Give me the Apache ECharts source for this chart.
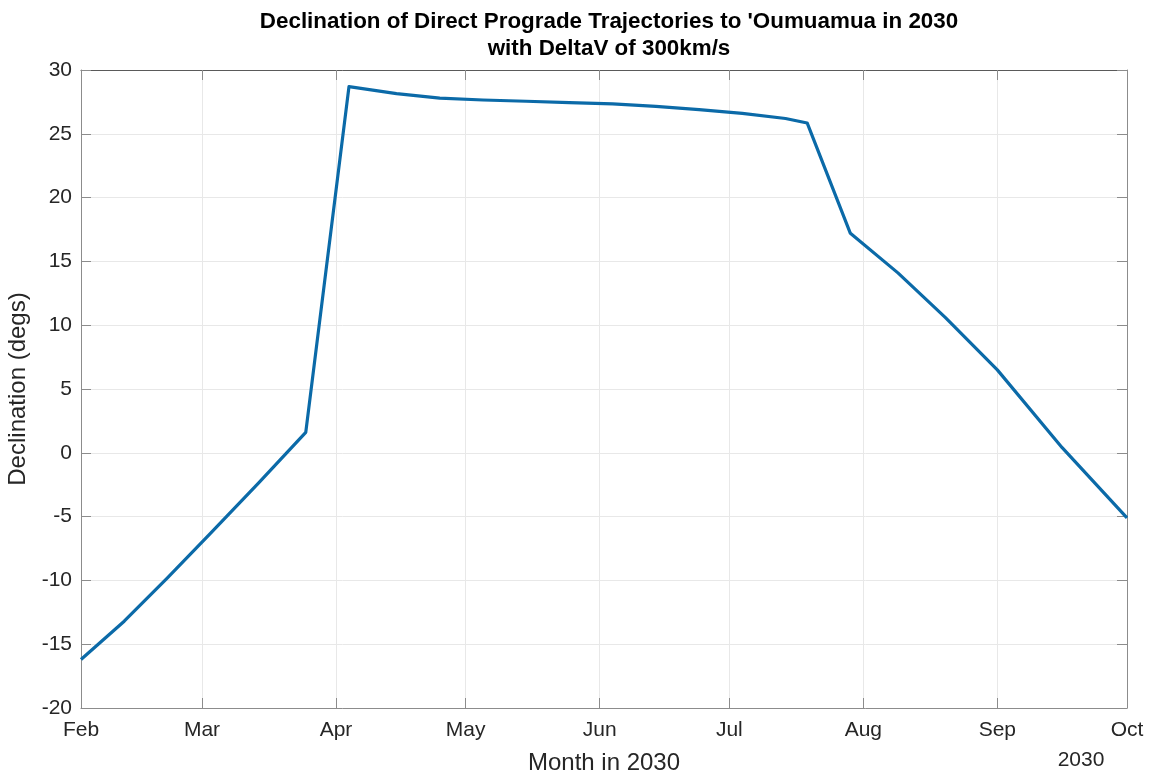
<!DOCTYPE html>
<html>
<head>
<meta charset="utf-8">
<script src="https://cdn.jsdelivr.net/npm/echarts@6/dist/echarts.min.js"></script>
<style>
  html, body { margin: 0; padding: 0; background: #fff; }
  #chart { width: 1156px; height: 778px; }
</style>
</head>
<body>
<div id="chart"></div>
<script>
// Trajectory launch dates and resulting declination (degrees)
const launchDates = [
  '2030-02-01', '2030-02-11', '2030-02-21', '2030-03-03', '2030-03-14',
  '2030-03-25', '2030-04-04', '2030-04-15', '2030-04-25', '2030-05-05',
  '2030-05-15', '2030-05-25', '2030-06-04', '2030-06-14', '2030-06-24',
  '2030-07-04', '2030-07-14', '2030-07-19', '2030-07-29', '2030-08-09',
  '2030-08-20', '2030-09-01', '2030-09-16', '2030-10-01'
];
const declination = [
  -16.2, -13.2, -9.8, -6.3, -2.4,
  1.6, 28.7, 28.15, 27.8, 27.65,
  27.55, 27.45, 27.35, 27.15, 26.9,
  26.6, 26.2, 25.85, 17.2, 14.1,
  10.6, 6.5, 0.4, -5.1
];
// Month tick positions and labels
const monthTicks = [
  '2030-02-01', '2030-03-01', '2030-04-01', '2030-05-01', '2030-06-01',
  '2030-07-01', '2030-08-01', '2030-09-01', '2030-10-01'
];
const monthLabels = ['Feb', 'Mar', 'Apr', 'May', 'Jun', 'Jul', 'Aug', 'Sep', 'Oct'];

// Dates are plotted as day offsets from the first tick
const DAY = 86400000;
const ts = s => { const [y, m, d] = s.split('-').map(Number); return Date.UTC(y, m - 1, d); };
const origin = ts(monthTicks[0]);
const dayOf = s => Math.round((ts(s) - origin) / DAY);
const tickDays = monthTicks.map(dayOf);
const labelFor = {};
tickDays.forEach((t, i) => { labelFor[t] = monthLabels[i]; });
const seriesData = launchDates.map((d, i) => [dayOf(d), declination[i]]);

const FONT = 'Liberation Sans, Arial, sans-serif';
const AXIS_COLOR = '#8c8c8c';
const TOP_COLOR = '#5a5a5a';
const TEXT_COLOR = '#262626';
const GRID_COLOR = '#e8e8e8';

const chart = echarts.init(document.getElementById('chart'), null, { renderer: 'canvas' });

const xBase = {
  type: 'value',
  min: tickDays[0],
  max: tickDays[tickDays.length - 1],
  axisTick: { show: true, inside: true, length: 10, customValues: tickDays,
              lineStyle: { color: AXIS_COLOR, width: 1 } }
};

const option = {
  backgroundColor: '#ffffff',
  animation: false,
  title: {
    text: "Declination of Direct Prograde Trajectories to 'Oumuamua in 2030\nwith DeltaV of 300km/s",
    left: 604,
    textAlign: 'center',
    top: 3,
    textStyle: { fontFamily: FONT, fontWeight: 'bold', fontSize: 22.4, lineHeight: 27, color: '#000' }
  },
  grid: { left: 81, right: 29, top: 70, bottom: 70, containLabel: false, outerBoundsMode: 'none' },
  xAxis: [
    Object.assign({}, xBase, {
      position: 'bottom',
      name: 'Month in 2030',
      nameLocation: 'middle',
      nameGap: 43,
      nameTextStyle: { fontFamily: FONT, fontSize: 24, color: TEXT_COLOR },
      axisLine: { show: true, onZero: false, lineStyle: { color: AXIS_COLOR, width: 1 } },
      axisLabel: {
        show: true, customValues: tickDays, margin: 12,
        fontFamily: FONT, fontSize: 21, color: TEXT_COLOR,
        formatter: v => labelFor[v] || ''
      },
      splitLine: { show: true, lineStyle: { color: GRID_COLOR, width: 1 } }
    }),
    Object.assign({}, xBase, {
      position: 'top',
      axisLine: { show: true, onZero: false, lineStyle: { color: TOP_COLOR, width: 1 } },
      axisLabel: { show: false },
      splitLine: { show: false }
    })
  ],
  yAxis: [
    {
      type: 'value', min: -20, max: 30, interval: 5,
      position: 'left',
      name: 'Declination (degs)',
      nameLocation: 'middle',
      nameGap: 40,
      nameTextStyle: { fontFamily: FONT, fontSize: 24, color: TEXT_COLOR },
      axisLine: { show: true, onZero: false, lineStyle: { color: AXIS_COLOR, width: 1 } },
      axisTick: { show: true, inside: true, length: 10, lineStyle: { color: AXIS_COLOR } },
      axisLabel: { fontFamily: FONT, fontSize: 21, color: TEXT_COLOR, margin: 9 },
      splitLine: { show: true, lineStyle: { color: GRID_COLOR, width: 1 } }
    },
    {
      type: 'value', min: -20, max: 30, interval: 5,
      position: 'right',
      axisLine: { show: true, onZero: false, lineStyle: { color: AXIS_COLOR, width: 1 } },
      axisTick: { show: true, inside: true, length: 10, lineStyle: { color: AXIS_COLOR } },
      axisLabel: { show: false },
      splitLine: { show: false }
    }
  ],
  graphic: [
    {
      type: 'text', x: 1081, y: 760,
      style: { text: '2030', fontFamily: FONT, fontSize: 21, fill: TEXT_COLOR,
               align: 'center', verticalAlign: 'middle' }
    }
  ],
  series: [
    {
      type: 'line',
      xAxisIndex: 0,
      yAxisIndex: 0,
      data: seriesData,
      showSymbol: false,
      symbol: 'none',
      lineStyle: { color: '#0b6aa8', width: 3.2, join: 'round' }
    }
  ]
};

chart.setOption(option);
</script>
</body>
</html>
